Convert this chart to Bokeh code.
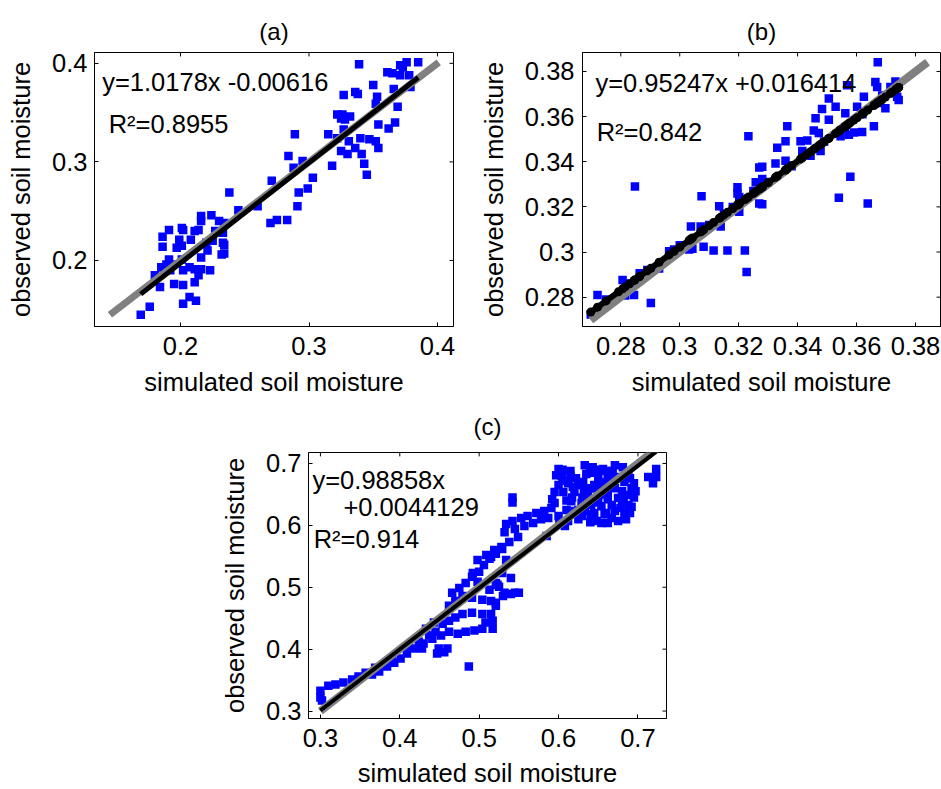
from bokeh.plotting import figure
from bokeh.models import Range1d, FixedTicker, Label, Spacer
from bokeh.layouts import row, column
from bokeh.embed import file_html
from bokeh.resources import INLINE

FONT = "Liberation Sans"
FS = "25.5px"

# ---------------- data ----------------
# panel (a)
a_sim = [0.339, 0.376, 0.385, 0.371, 0.373, 0.361, 0.365, 0.371, 0.378, 0.379,
         0.350, 0.366, 0.327, 0.336, 0.338, 0.353, 0.352, 0.369, 0.322, 0.326,
         0.325, 0.332, 0.328, 0.354, 0.367, 0.362, 0.315, 0.289, 0.327, 0.322,
         0.331, 0.340, 0.347, 0.352, 0.354, 0.336, 0.325, 0.330, 0.341, 0.343,
         0.345, 0.318, 0.284, 0.295, 0.288, 0.303, 0.271, 0.299, 0.292, 0.291,
         0.270, 0.275, 0.283,
         0.238, 0.245, 0.260, 0.216, 0.224, 0.216, 0.230, 0.234, 0.191, 0.186,
         0.202, 0.211, 0.214, 0.199, 0.201, 0.186, 0.197, 0.208, 0.227, 0.233,
         0.233, 0.225, 0.220, 0.221, 0.234, 0.232, 0.191, 0.189, 0.186, 0.194,
         0.201, 0.216, 0.211, 0.207, 0.216, 0.223, 0.202, 0.214, 0.180, 0.195,
         0.202, 0.211, 0.184, 0.176, 0.169, 0.207, 0.212, 0.202, 0.185, 0.192,
         0.201, 0.234]
a_obs = [0.399, 0.401, 0.401, 0.398, 0.396, 0.391, 0.390, 0.388, 0.388, 0.376,
         0.378, 0.374, 0.368, 0.371, 0.369, 0.366, 0.359, 0.356, 0.348, 0.348,
         0.344, 0.346, 0.343, 0.338, 0.340, 0.334, 0.328, 0.328, 0.333, 0.324,
         0.321, 0.324, 0.323, 0.321, 0.314, 0.314, 0.311, 0.308, 0.308, 0.298,
         0.287, 0.296, 0.306, 0.301, 0.294, 0.284, 0.281, 0.273, 0.269, 0.255,
         0.238, 0.241, 0.241,
         0.269, 0.251, 0.255, 0.245, 0.246, 0.240, 0.240, 0.238, 0.231, 0.224,
         0.231, 0.230, 0.231, 0.221, 0.215, 0.214, 0.213, 0.221, 0.230, 0.228,
         0.218, 0.220, 0.218, 0.210, 0.207, 0.206, 0.201, 0.196, 0.193, 0.196,
         0.201, 0.203, 0.191, 0.193, 0.191, 0.190, 0.190, 0.185, 0.185, 0.176,
         0.175, 0.178, 0.173, 0.153, 0.145, 0.163, 0.159, 0.156, 0.193, 0.190,
         0.233, 0.216]
a_fit = (1.0178, -0.00616)
a_eq = "y=1.0178x -0.00616"
a_r2 = "R\u00b2=0.8955"

# panel (b)
b_sim = [0.3233, 0.3270, 0.2848, 0.3074, 0.3196, 0.3196, 0.3202, 0.3134, 0.3258, 0.3270,
         0.3202, 0.3038, 0.3071, 0.3139, 0.2981, 0.3032, 0.3043, 0.3081, 0.3115, 0.3162,
         0.3221, 0.3227, 0.2930, 0.2864, 0.2806, 0.2721, 0.2792, 0.2815, 0.2845, 0.2902,
         0.2698, 0.2862, 0.2964,
         0.3672, 0.3568, 0.3664, 0.3670, 0.3732, 0.3743, 0.3715, 0.3738, 0.3743, 0.3698,
         0.3625, 0.3506, 0.3529, 0.3483, 0.3562, 0.3461, 0.3506, 0.3365, 0.3455, 0.3472,
         0.3410, 0.3433, 0.3359, 0.3331, 0.3416, 0.3444, 0.3478, 0.3325, 0.3359, 0.3280,
         0.3280, 0.3280, 0.3579, 0.3540, 0.3638, 0.3659, 0.3619, 0.3591, 0.3574, 0.3546,
         0.3602, 0.3687,
         0.275, 0.283, 0.289, 0.300, 0.310, 0.315, 0.318, 0.325, 0.330, 0.338,
         0.343, 0.349, 0.356, 0.362, 0.368, 0.372]
b_obs = [0.3513, 0.3375, 0.3290, 0.3247, 0.3287, 0.3259, 0.3244, 0.3203, 0.3309, 0.3215,
         0.3178, 0.3113, 0.3113, 0.3113, 0.3011, 0.3011, 0.3014, 0.3023, 0.3007, 0.3007,
         0.3007, 0.2912, 0.2927, 0.2906, 0.2876, 0.2810, 0.2807, 0.2807, 0.2810, 0.2774,
         0.2723, 0.2880, 0.3003,
         0.3841, 0.3739, 0.3753, 0.3731, 0.3756, 0.3746, 0.3731, 0.3688, 0.3673, 0.3637,
         0.3688, 0.3680, 0.3644, 0.3634, 0.3615, 0.3593, 0.3586, 0.3557, 0.3538, 0.3527,
         0.3491, 0.3494, 0.3491, 0.3462, 0.3448, 0.3426, 0.3448, 0.3392, 0.3404, 0.3378,
         0.3324, 0.3212, 0.3334, 0.3241, 0.3215, 0.3557, 0.3532, 0.3530, 0.3520, 0.3513,
         0.3644, 0.3694,
         0.279, 0.286, 0.292, 0.303, 0.312, 0.317, 0.320, 0.327, 0.331, 0.338,
         0.343, 0.349, 0.355, 0.361, 0.366, 0.371]
b_fit = (0.95247, 0.016414)
b_eq = "y=0.95247x +0.016414"
b_r2 = "R\u00b2=0.842"

# panel (c)
c_sim = [0.600, 0.597, 0.600, 0.595, 0.606, 0.633, 0.643, 0.656, 0.671, 0.681,
         0.688, 0.635, 0.631, 0.625, 0.650, 0.662, 0.675, 0.683, 0.692, 0.688,
         0.688, 0.683, 0.671, 0.675, 0.662, 0.654, 0.648, 0.658, 0.641, 0.633,
         0.620, 0.616, 0.620, 0.637, 0.650, 0.662, 0.671, 0.675, 0.667, 0.654,
         0.641, 0.629, 0.612, 0.608, 0.601, 0.595, 0.591, 0.582, 0.572, 0.561,
         0.553, 0.542, 0.534, 0.532, 0.545, 0.557, 0.568, 0.578, 0.587, 0.542,
         0.542, 0.713, 0.719, 0.723, 0.723, 0.549, 0.538, 0.528, 0.519, 0.509,
         0.498, 0.515, 0.540, 0.523, 0.532, 0.545, 0.513, 0.498, 0.492, 0.585,
         0.300, 0.300, 0.302, 0.310, 0.319, 0.329, 0.340, 0.348, 0.357, 0.365,
         0.374, 0.384, 0.393, 0.401, 0.409, 0.418, 0.428, 0.430, 0.449, 0.460,
         0.441, 0.452, 0.462, 0.473, 0.483, 0.494, 0.504, 0.517, 0.487, 0.445,
         0.437, 0.424, 0.454, 0.462, 0.470, 0.479, 0.491, 0.504, 0.515, 0.517,
         0.508, 0.462, 0.470, 0.479, 0.491, 0.504, 0.515, 0.521, 0.521, 0.466,
         0.475, 0.483, 0.491, 0.500, 0.506, 0.513, 0.521, 0.529, 0.525, 0.529,
         0.534, 0.521, 0.433, 0.443, 0.411, 0.390, 0.369, 0.447, 0.456, 0.530,
         0.540, 0.550,
         0.604, 0.612, 0.615, 0.645, 0.655, 0.665, 0.680, 0.680, 0.630, 0.610,
         0.625, 0.640, 0.695, 0.690, 0.660, 0.645, 0.625, 0.605, 0.618, 0.652,
         0.668, 0.685, 0.697, 0.640, 0.610,
         0.605, 0.615, 0.612, 0.622, 0.640, 0.648, 0.660, 0.668, 0.690, 0.695,
         0.655, 0.645, 0.632, 0.655, 0.662, 0.682, 0.692, 0.678, 0.648, 0.630,
         0.600, 0.592, 0.685, 0.667, 0.617]
c_obs = [0.691, 0.681, 0.665, 0.654, 0.654, 0.697, 0.694, 0.691, 0.697, 0.694,
         0.686, 0.683, 0.670, 0.665, 0.678, 0.676, 0.678, 0.670, 0.660, 0.649,
         0.633, 0.620, 0.623, 0.607, 0.604, 0.604, 0.607, 0.618, 0.618, 0.623,
         0.623, 0.639, 0.654, 0.649, 0.644, 0.654, 0.660, 0.644, 0.633, 0.631,
         0.633, 0.636, 0.607, 0.599, 0.604, 0.636, 0.628, 0.623, 0.620, 0.615,
         0.612, 0.607, 0.602, 0.589, 0.594, 0.599, 0.604, 0.610, 0.612, 0.645,
         0.637, 0.678, 0.668, 0.691, 0.678, 0.581, 0.573, 0.565, 0.560, 0.552,
         0.544, 0.549, 0.515, 0.504, 0.491, 0.491, 0.496, 0.509, 0.523, 0.583,
         0.333, 0.322, 0.317, 0.341, 0.343, 0.346, 0.351, 0.356, 0.362, 0.359,
         0.364, 0.372, 0.378, 0.385, 0.393, 0.401, 0.401, 0.409, 0.401, 0.401,
         0.417, 0.422, 0.428, 0.425, 0.428, 0.430, 0.433, 0.433, 0.372, 0.428,
         0.422, 0.412, 0.441, 0.446, 0.451, 0.457, 0.459, 0.457, 0.457, 0.446,
         0.443, 0.470, 0.478, 0.486, 0.483, 0.480, 0.478, 0.475, 0.470, 0.491,
         0.499, 0.507, 0.517, 0.525, 0.536, 0.546, 0.554, 0.562, 0.501, 0.523,
         0.544, 0.507, 0.433, 0.443, 0.406, 0.385, 0.370, 0.393, 0.395, 0.486,
         0.489, 0.491,
         0.680, 0.672, 0.688, 0.665, 0.660, 0.665, 0.655, 0.640, 0.645, 0.625,
         0.610, 0.605, 0.645, 0.620, 0.620, 0.620, 0.625, 0.672, 0.662, 0.690,
         0.688, 0.680, 0.655, 0.660, 0.640,
         0.690, 0.680, 0.668, 0.676, 0.685, 0.688, 0.688, 0.682, 0.676, 0.668,
         0.670, 0.660, 0.657, 0.650, 0.642, 0.642, 0.630, 0.628, 0.637, 0.615,
         0.615, 0.642, 0.610, 0.612, 0.645]
c_fit = (0.98858, 0.0044129)
c_eq1 = "y=0.98858x"
c_eq2 = "+0.0044129"
c_r2 = "R\u00b2=0.914"

# ticks
a_ticks = [0.2, 0.3, 0.4]
a_labels = ["0.2", "0.3", "0.4"]
b_ticks = [0.28, 0.3, 0.32, 0.34, 0.36, 0.38]
b_labels = ["0.28", "0.3", "0.32", "0.34", "0.36", "0.38"]
c_ticks = [0.3, 0.4, 0.5, 0.6, 0.7]
c_labels = ["0.3", "0.4", "0.5", "0.6", "0.7"]

XLABEL = "simulated soil moisture"
YLABEL = "observed soil moisture"
TICK_PX = 4


def style_axis(ax, ticks, labels):
    ax.ticker = FixedTicker(ticks=ticks)
    ax.major_label_overrides = {t: l for t, l in zip(ticks, labels)}
    ax.major_tick_in = TICK_PX
    ax.major_tick_out = 0
    ax.minor_tick_line_color = None
    ax.axis_line_color = "black"
    ax.major_tick_line_color = "black"
    ax.major_label_text_font = FONT
    ax.major_label_text_color = "black"
    ax.major_label_text_font_size = FS


def panel(title, sim, obs, fit, ticks, labels, xr, yr, w, h, mb,
          std, texts, gray_w, black_w, beads):
    fw = w - mb[0] - mb[1]
    fh = h - mb[2] - mb[3]
    p = figure(width=w, height=h, x_range=Range1d(*xr), y_range=Range1d(*yr),
               output_backend="svg", toolbar_location=None,
               min_border_left=mb[0], min_border_right=mb[1],
               min_border_top=mb[2], min_border_bottom=mb[3])
    p.background_fill_color = "white"
    p.border_fill_color = "white"
    p.outline_line_color = "black"
    p.outline_line_alpha = 1.0
    p.xgrid.grid_line_color = None
    p.ygrid.grid_line_color = None

    p.title.text = title
    p.title.align = "center"
    p.title.text_font = FONT
    p.title.text_font_size = "24px"
    p.title.text_font_style = "normal"
    p.title.text_color = "black"
    p.title.standoff = std[4]

    bx = p.xaxis[0]
    ly = p.yaxis[0]
    style_axis(bx, ticks, labels)
    style_axis(ly, ticks, labels)
    bx.axis_label = XLABEL
    ly.axis_label = YLABEL
    for ax in (bx, ly):
        ax.axis_label_text_font = FONT
        ax.axis_label_text_font_size = FS
        ax.axis_label_text_font_style = "normal"
        ax.axis_label_text_color = "black"
    bx.major_label_standoff = std[0]
    bx.axis_label_standoff = std[1]
    ly.major_label_standoff = std[2]
    ly.axis_label_standoff = std[3]

    # inward ticks on the top and right frame edges
    dy = TICK_PX * (yr[1] - yr[0]) / fh
    dx = TICK_PX * (xr[1] - xr[0]) / fw
    tx = [t for t in ticks if xr[0] <= t <= xr[1]]
    ty = [t for t in ticks if yr[0] <= t <= yr[1]]
    p.segment(x0=tx, y0=[yr[1]] * len(tx), x1=tx, y1=[yr[1] - dy] * len(tx),
              line_color="black", line_width=1)
    p.segment(x0=[xr[1]] * len(ty), y0=ty, x1=[xr[1] - dx] * len(ty), y1=ty,
              line_color="black", line_width=1)

    # data squares
    p.scatter(sim, obs, marker="square", size=8.5, fill_color="#0000ff",
              line_color=None)
    # 1:1 line
    lo = min(min(sim), min(obs))
    hi = max(max(sim), max(obs))
    p.line([lo, hi], [lo, hi], line_width=gray_w, line_color="#808080")
    # regression line
    xs = [min(sim), max(sim)]
    ys = [fit[0] * v + fit[1] for v in xs]
    p.line(xs, ys, line_width=black_w, line_color="black")
    if beads:
        fy = [fit[0] * v + fit[1] for v in sim]
        p.scatter(sim, fy, marker="circle", size=9, fill_color="black",
                  line_color=None)

    for (lx, lyy, tt) in texts:
        p.add_layout(Label(x=lx, y=lyy, text=tt, text_font=FONT,
                           text_font_size=FS, text_color="black",
                           text_baseline="alphabetic", text_align="left"))
    return p


fa = panel("(a)", a_sim, a_obs, a_fit, a_ticks, a_labels,
           (0.133, 0.4125), (0.133, 0.411), 470, 398, (94, 17, 52, 68),
           (10, 10, 7, 14, 16),
           [(0.139, 0.3815, a_eq), (0.144, 0.338, a_r2)], 7, 5, False)

fb = panel("(b)", b_sim, b_obs, b_fit, b_ticks, b_labels,
           (0.267, 0.3885), (0.267, 0.3884), 471, 398, (112, 1, 52, 68),
           (10, 10, 8, 14, 16),
           [(0.2714, 0.3748, b_eq), (0.2718, 0.3532, b_r2)], 8, 6, True)

fc = panel("(c)", c_sim, c_obs, c_fit, c_ticks, c_labels,
           (0.285, 0.736), (0.288, 0.7177), 468, 391, (100, 10, 52, 67),
           (10, 9, 7, 14, 25),
           [(0.290, 0.673, c_eq1), (0.329, 0.629, c_eq2), (0.2915, 0.5785, c_r2)],
           8, 4, False)

layout = column(row(fa, fb), row(Spacer(width=208, height=391), fc))

open("out.html", "w").write(file_html(layout, INLINE))
